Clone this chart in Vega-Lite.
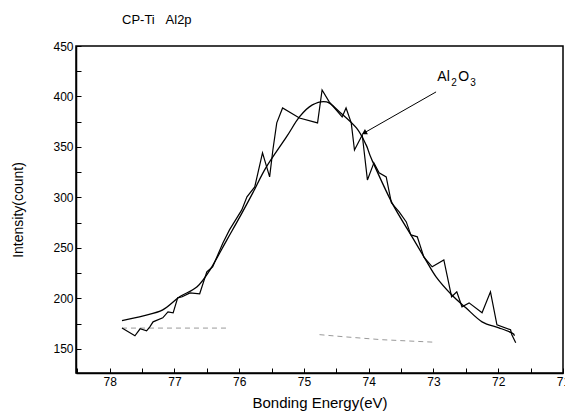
{
  "$schema": "https://vega.github.io/schema/vega-lite/v6.json",
  "width": 487,
  "height": 327,
  "autosize": "none",
  "padding": {"left": 76, "top": 46, "right": 2, "bottom": 39},
  "background": "white",
  "config": {
    "font": "Liberation Sans",
    "view": {"stroke": "black", "strokeWidth": 1.5},
    "axis": {"grid": false, "domainColor": "black", "domainWidth": 1.5, "tickColor": "black", "labelColor": "black", "titleColor": "black", "labelFont": "Liberation Sans", "titleFont": "Liberation Sans", "titleFontWeight": "normal"}
  },
  "title": {"text": "CP-Ti\u00a0\u00a0\u00a0Al2p", "anchor": "start", "frame": "group", "dx": 46, "offset": 13, "fontSize": 13, "fontWeight": "normal", "font": "Liberation Sans", "color": "black"},
  "datasets": {
    "raw": [
      {"E": 77.81, "I": 170.5}, {"E": 77.61, "I": 162.9}, {"E": 77.53, "I": 169.8}, {"E": 77.43, "I": 167.8},
      {"E": 77.38, "I": 171.8}, {"E": 77.33, "I": 176.7}, {"E": 77.18, "I": 180.7}, {"E": 77.10, "I": 186.6},
      {"E": 77.02, "I": 185.6}, {"E": 76.95, "I": 200.5}, {"E": 76.88, "I": 201.5}, {"E": 76.76, "I": 205.4},
      {"E": 76.61, "I": 204.5}, {"E": 76.50, "I": 226.2}, {"E": 76.41, "I": 231.2}, {"E": 76.25, "I": 255.0},
      {"E": 76.15, "I": 267.8}, {"E": 75.96, "I": 287.6}, {"E": 75.88, "I": 300.5}, {"E": 75.76, "I": 310.4},
      {"E": 75.64, "I": 344.1}, {"E": 75.53, "I": 320.3}, {"E": 75.48, "I": 347.0}, {"E": 75.42, "I": 373.8},
      {"E": 75.33, "I": 388.6}, {"E": 75.07, "I": 378.7}, {"E": 74.79, "I": 373.8}, {"E": 74.72, "I": 406.4},
      {"E": 74.61, "I": 394.6}, {"E": 74.41, "I": 379.7}, {"E": 74.35, "I": 388.6}, {"E": 74.27, "I": 373.8},
      {"E": 74.22, "I": 347.0}, {"E": 74.18, "I": 352.0}, {"E": 74.10, "I": 361.9}, {"E": 74.02, "I": 317.3},
      {"E": 73.92, "I": 334.2}, {"E": 73.84, "I": 324.3}, {"E": 73.73, "I": 320.3}, {"E": 73.65, "I": 294.6},
      {"E": 73.53, "I": 285.6}, {"E": 73.42, "I": 275.7}, {"E": 73.35, "I": 262.9}, {"E": 73.25, "I": 260.9},
      {"E": 73.15, "I": 241.1}, {"E": 73.02, "I": 231.2}, {"E": 72.84, "I": 238.1}, {"E": 72.72, "I": 201.5},
      {"E": 72.64, "I": 206.4}, {"E": 72.56, "I": 191.6}, {"E": 72.45, "I": 195.5}, {"E": 72.25, "I": 185.6},
      {"E": 72.12, "I": 206.4}, {"E": 72.02, "I": 173.8}, {"E": 71.81, "I": 168.8}, {"E": 71.79, "I": 163.9},
      {"E": 71.73, "I": 155.9}
    ],
    "fit": [
      {"E": 77.81, "I": 178.0}, {"E": 77.48, "I": 182.7}, {"E": 77.18, "I": 188.6}, {"E": 76.92, "I": 201.5},
      {"E": 76.65, "I": 211.4}, {"E": 76.45, "I": 228.2}, {"E": 76.19, "I": 257.9}, {"E": 75.99, "I": 280.7},
      {"E": 75.79, "I": 304.5}, {"E": 75.58, "I": 330.2}, {"E": 75.27, "I": 359.9}, {"E": 75.07, "I": 379.7},
      {"E": 74.87, "I": 391.6}, {"E": 74.65, "I": 394.6}, {"E": 74.45, "I": 384.7}, {"E": 74.19, "I": 368.8},
      {"E": 74.04, "I": 352.0}, {"E": 73.95, "I": 337.1}, {"E": 73.64, "I": 294.6}, {"E": 73.33, "I": 260.9},
      {"E": 73.12, "I": 238.1}, {"E": 72.96, "I": 221.3}, {"E": 72.72, "I": 203.5}, {"E": 72.50, "I": 190.6},
      {"E": 72.25, "I": 176.7}, {"E": 71.99, "I": 170.8}, {"E": 71.79, "I": 165.8}, {"E": 71.75, "I": 163.0}
    ],
    "base": [
      {"E": 77.81, "I": 170.5, "seg": "a"}, {"E": 76.18, "I": 170.5, "seg": "a"},
      {"E": 74.76, "I": 164.0, "seg": "b"}, {"E": 74.40, "I": 162.0, "seg": "b"},
      {"E": 73.80, "I": 159.0, "seg": "b"}, {"E": 72.98, "I": 156.5, "seg": "b"}
    ],
    "note": [
      {"E1": 72.96, "I1": 404.5, "E2": 74.07, "I2": 363.9, "tE": 72.94, "tI": 415.0}
    ]
  },
  "encoding": {
    "x": {
      "field": "E", "type": "quantitative",
      "scale": {"domain": [71.0, 78.52], "reverse": true, "nice": false, "zero": false},
      "axis": {
        "title": "Bonding Energy(eV)", "titleFontSize": 15, "titlePadding": 8,
        "values": [71, 71.5, 72, 72.5, 73, 73.5, 74, 74.5, 75, 75.5, 76, 76.5, 77, 77.5, 78, 78.5],
        "labelExpr": "datum.value % 1 === 0 ? format(datum.value, 'd') : ''",
        "labelFontSize": 12, "labelPadding": 8, "labelOverlap": false, "labelBound": false, "labelFlush": false,
        "tickSize": -5
      }
    },
    "y": {
      "field": "I", "type": "quantitative",
      "scale": {"domain": [126, 450], "nice": false, "zero": false},
      "axis": {
        "title": "Intensity(count)", "titleFontSize": 14, "titlePadding": 27,
        "values": [150, 175, 200, 225, 250, 275, 300, 325, 350, 375, 400, 425, 450],
        "labelExpr": "datum.value % 50 === 0 ? datum.label : ''",
        "labelFontSize": 12, "labelPadding": 8, "labelOverlap": false,
        "tickSize": -5
      }
    }
  },
  "layer": [
    {
      "data": {"name": "base"},
      "mark": {"type": "line", "color": "#9a9a9a", "strokeWidth": 1, "strokeDash": [5, 4]},
      "encoding": {"detail": {"field": "seg", "type": "nominal"}}
    },
    {
      "data": {"name": "fit"},
      "mark": {"type": "line", "color": "black", "strokeWidth": 1.3, "interpolate": "cardinal"},
      "encoding": {}
    },
    {
      "data": {"name": "raw"},
      "mark": {"type": "line", "color": "black", "strokeWidth": 1.2},
      "encoding": {}
    },
    {
      "data": {"name": "note"},
      "mark": {"type": "rule", "color": "black", "strokeWidth": 1},
      "encoding": {
        "x": {"field": "E1", "type": "quantitative"},
        "y": {"field": "I1", "type": "quantitative"},
        "x2": {"field": "E2"},
        "y2": {"field": "I2"}
      }
    },
    {
      "data": {"name": "note"},
      "mark": {"type": "point", "shape": "triangle-up", "filled": true, "color": "black", "size": 35, "angle": 240, "opacity": 1},
      "encoding": {
        "x": {"field": "E2", "type": "quantitative"},
        "y": {"field": "I2", "type": "quantitative"}
      }
    },
    {
      "data": {"name": "note"},
      "mark": {"type": "text", "align": "left", "baseline": "alphabetic", "fontSize": 14, "font": "Liberation Sans", "color": "black", "text": "Al"},
      "encoding": {
        "x": {"field": "tE", "type": "quantitative"},
        "y": {"field": "tI", "type": "quantitative"}
      }
    },
    {
      "data": {"name": "note"},
      "mark": {"type": "text", "align": "left", "baseline": "alphabetic", "fontSize": 10, "font": "Liberation Sans", "color": "black", "text": "2", "dx": 14, "dy": 5},
      "encoding": {
        "x": {"field": "tE", "type": "quantitative"},
        "y": {"field": "tI", "type": "quantitative"}
      }
    },
    {
      "data": {"name": "note"},
      "mark": {"type": "text", "align": "left", "baseline": "alphabetic", "fontSize": 14, "font": "Liberation Sans", "color": "black", "text": "O", "dx": 21},
      "encoding": {
        "x": {"field": "tE", "type": "quantitative"},
        "y": {"field": "tI", "type": "quantitative"}
      }
    },
    {
      "data": {"name": "note"},
      "mark": {"type": "text", "align": "left", "baseline": "alphabetic", "fontSize": 10, "font": "Liberation Sans", "color": "black", "text": "3", "dx": 33, "dy": 5},
      "encoding": {
        "x": {"field": "tE", "type": "quantitative"},
        "y": {"field": "tI", "type": "quantitative"}
      }
    }
  ]
}
